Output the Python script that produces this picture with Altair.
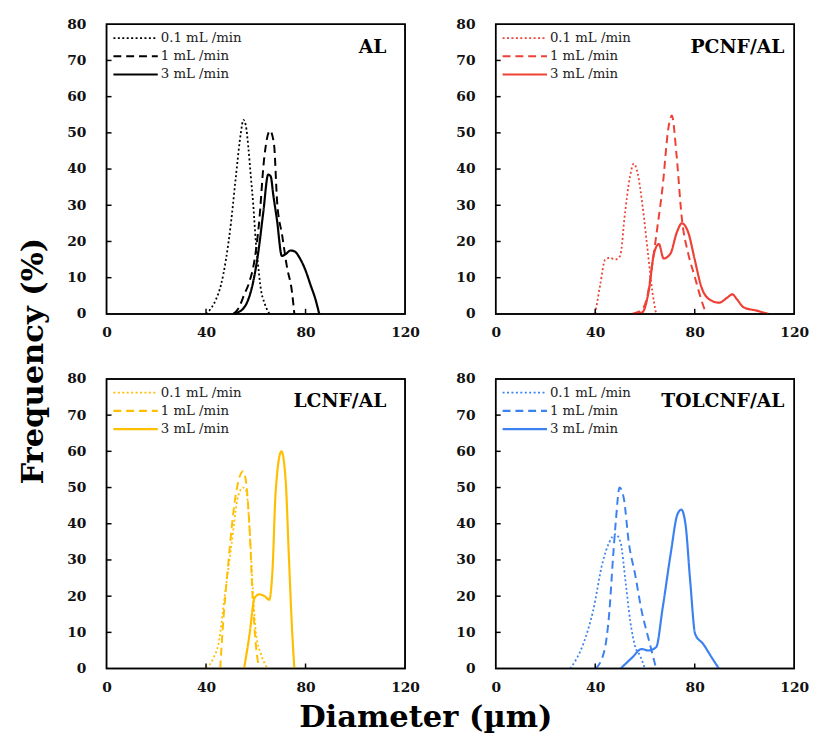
import altair as alt
import pandas as pd

rates = ["0.1 mL /min", "1 mL /min", "3 mL /min"]
xticks = [0, 40, 80, 120]
yticks = [0, 10, 20, 30, 40, 50, 60, 70, 80]
inner_xticks = [40, 80]
inner_yticks = [10, 20, 30, 40, 50, 60, 70]
x_range = [0, 120]
y_range = [0, 80]

# AL
al_x01 = [40, 42, 44, 46, 48, 50, 52, 54, 55, 56, 57, 58, 59, 60, 61, 62, 63.5, 65.5]
al_y01 = [0, 1.5, 4, 8, 15, 25, 38, 50, 53.6, 52, 46, 38, 30, 20, 13, 7, 3, 0]
al_x1 = [51, 53, 55.4, 57.5, 59.4, 61.3, 63.3, 65.7, 67.3, 68.6, 70.6, 72.6, 74.5, 75.5]
al_y1 = [0, 1.5, 5.4, 9, 14.5, 25, 42.5, 50.6, 47, 30.7, 21.7, 12.7, 6.3, 0]
al_x3 = [51, 53, 55, 57, 59, 61, 63, 65, 66, 67, 68.5, 70.5, 72, 74, 75.5, 78, 80, 82, 84, 85.5]
al_y3 = [0, 0.5, 1.5, 4, 9, 17, 28, 38.5, 38, 33, 26, 16, 16.5, 17.5, 17.3, 15, 12, 8, 4, 0]

# PCNF/AL
pc_x01 = [40, 42, 44, 46, 48, 50, 52, 54, 55.5, 57, 59, 61, 63, 64.5]
pc_y01 = [0, 8, 15, 15.5, 15, 16, 28, 38, 41.5, 39, 30, 18, 6, 0]
pc_x1 = [55, 57, 59, 61, 63, 65, 67, 69.5, 70.8, 72.8, 74.8, 77.4, 80, 82.6, 84.6]
pc_y1 = [0, 0.5, 1.3, 5, 14, 24, 34.5, 51.7, 54.8, 43, 26.5, 16.6, 10.3, 4, 0]
pc_x3 = [55, 57, 59, 61.6, 63.6, 65.6, 67.5, 70.2, 72.8, 74.8, 77.4, 80, 82.6, 85.9, 89.8, 93.1, 95.1, 97, 99.7, 104.9, 109.5]
pc_y3 = [0, 0.2, 0.5, 6.7, 16.6, 19.3, 15.3, 16.6, 22.5, 25, 22.5, 15, 7.6, 4, 3.1, 4.5, 5.4, 4, 1.8, 0.9, 0]

# LCNF/AL
lc_x01 = [40.4, 43, 45, 47.6, 50.3, 52.9, 54.9, 56.2, 57.5, 58.8, 60.1, 62.1, 64.7]
lc_y01 = [0, 3, 6.8, 20.5, 34.5, 47.7, 50, 49, 38.6, 22, 9.5, 4, 0]
lc_x1 = [45.7, 46.3, 49, 51.6, 54.9, 56.2, 57.5, 58.8, 60.1, 61.4]
lc_y1 = [0, 6.8, 29.5, 46.4, 54.5, 51, 38.6, 18.6, 6, 0]
lc_x3 = [55.3, 57.5, 59.5, 61.4, 63.5, 65.4, 66.7, 68, 70.3, 72, 73.3, 74.6, 75.5]
lc_y3 = [0, 9.5, 19.5, 20.5, 20, 19, 27, 49, 60, 52, 31, 10.5, 0]

# TOLCNF/AL
to_x01 = [30, 35.2, 39.1, 43, 45.6, 48.2, 50.2, 52.2, 54.1, 56.1, 58, 60]
to_y01 = [0, 6.8, 15.8, 29.4, 34.8, 37.1, 34.8, 24, 13, 6, 3.6, 0]
to_x1 = [40.2, 43.7, 45.6, 47.2, 48.2, 49.8, 51.5, 53.5, 56.1, 58.7, 61.3, 64.5]
to_y1 = [0, 5, 15, 31, 40, 50, 47, 34.8, 25.8, 15.8, 8.6, 0]
to_x3 = [50.2, 54.8, 58.7, 61.3, 64.5, 67.1, 70.4, 73, 74.6, 76.3, 78.2, 80.2, 83.4, 86.7, 89.7]
to_y3 = [0, 3, 5.4, 5, 5.9, 16.7, 32, 42.5, 43.9, 39.8, 24, 9.5, 6.8, 3.2, 0]

W, H = 303, 294
FONT = "DejaVu Serif"
dash_range = [[2, 2.5], [8, 5], [1, 0]]
width_range = [1.8, 2.2, 2.2]


def panel(name, color, series, inset):
    rows = []
    for rate, (xs, ys) in zip(rates, series):
        for a, b in zip(xs, ys):
            rows.append({"d": a, "f": b, "rate": rate})
    df = pd.DataFrame(rows)
    xsc = alt.Scale(domain=x_range, nice=False, zero=False)
    ysc = alt.Scale(domain=y_range, nice=False)
    xax = alt.Axis(values=xticks, title=None, labelPadding=12, ticks=False, domain=False,
                   grid=False, labelFlush=False)
    yax = alt.Axis(values=yticks, title=None, labelPadding=21, ticks=False, domain=False,
                   grid=False, labelFlush=False)
    lines = alt.Chart(df).mark_line(interpolate="monotone", color=color).encode(
        x=alt.X("d:Q", scale=xsc, axis=xax),
        y=alt.Y("f:Q", scale=ysc, axis=yax),
        strokeDash=alt.StrokeDash("rate:N", scale=alt.Scale(domain=rates, range=dash_range), legend=None),
        strokeWidth=alt.StrokeWidth("rate:N", scale=alt.Scale(domain=rates, range=width_range), legend=None),
        detail="rate:N",
    )
    # frame drawn from data through the scales
    frame = alt.Chart(pd.DataFrame({"d": [x_range[0]], "d2": [x_range[1]],
                                    "f": [y_range[0]], "f2": [y_range[1]]})).mark_rect(
        fillOpacity=0, stroke="black", strokeWidth=1.5).encode(
        x=alt.X("d:Q", scale=xsc, axis=xax), x2="d2:Q",
        y=alt.Y("f:Q", scale=ysc, axis=yax), y2="f2:Q")
    # inward ticks drawn from data through the scales
    xt = alt.Chart(pd.DataFrame({"d": inner_xticks, "f": [0, 0], "f2": [1.4, 1.4]})).mark_rule(
        color="black", strokeWidth=1.5).encode(
        x=alt.X("d:Q", scale=xsc, axis=xax),
        y=alt.Y("f:Q", scale=ysc, axis=yax), y2="f2:Q")
    yt = alt.Chart(pd.DataFrame({"f": inner_yticks, "d": [0] * 7, "d2": [2] * 7})).mark_rule(
        color="black", strokeWidth=1.5).encode(
        x=alt.X("d:Q", scale=xsc, axis=xax), x2="d2:Q",
        y=alt.Y("f:Q", scale=ysc, axis=yax))
    layers = [lines, frame, xt, yt]
    for i, rate in enumerate(rates):
        yy = 14 + 18.5 * i
        layers.append(alt.Chart(pd.DataFrame({"t": [rate]})).mark_rule(
            color=color, strokeDash=dash_range[i], strokeWidth=width_range[i]).encode(
            x=alt.value(7), x2=alt.value(52), y=alt.value(yy)))
        layers.append(alt.Chart(pd.DataFrame({"t": [rate]})).mark_text(
            align="left", baseline="middle", font=FONT, fontSize=13.5, color="#222").encode(
            x=alt.value(55), y=alt.value(yy), text="t:N"))
    layers.append(alt.Chart(pd.DataFrame({"t": [name]})).mark_text(
        align="right", baseline="middle", font=FONT, fontSize=19, fontWeight="bold", color="black").encode(
        x=alt.value(W - inset), y=alt.value(23), text="t:N"))
    return alt.layer(*layers).properties(width=W, height=H)


p1 = panel("AL", "black", [(al_x01, al_y01), (al_x1, al_y1), (al_x3, al_y3)], 19)
p2 = panel("PCNF/AL", "#ee4035", [(pc_x01, pc_y01), (pc_x1, pc_y1), (pc_x3, pc_y3)], 10)
p3 = panel("LCNF/AL", "#ffbf00", [(lc_x01, lc_y01), (lc_x1, lc_y1), (lc_x3, lc_y3)], 19)
p4 = panel("TOLCNF/AL", "#3b82f0", [(to_x01, to_y01), (to_x1, to_y1), (to_x3, to_y3)], 10)

grid = alt.vconcat(
    alt.hconcat(p1, p2, spacing=34),
    alt.hconcat(p3, p4, spacing=34),
    spacing=31,
    title=alt.TitleParams(text="Diameter (µm)", orient="bottom", font=FONT, fontSize=31,
                          fontWeight="bold", color="black", anchor="middle", dx=-12, offset=9),
)

ytitle = alt.Chart(pd.DataFrame({"t": ["Frequency (%)"]})).mark_text(
    angle=270, align="center", baseline="middle", font=FONT, fontSize=31, fontWeight="bold",
    color="black").encode(x=alt.value(27), y=alt.value(342), text="t:N").properties(
    width=55, height=640, view=alt.ViewBackground(strokeWidth=0))

chart = alt.hconcat(ytitle, grid, spacing=3).properties(
    padding={"left": 0, "top": 3, "right": 0, "bottom": 0}
).configure_view(stroke="black", strokeWidth=1.5).configure_axis(
    labelFont=FONT, labelFontWeight="bold", labelFontSize=14, labelColor="#111"
).configure_title(font=FONT)

chart.save("out.html", embed_options={"renderer": "svg", "actions": False})
